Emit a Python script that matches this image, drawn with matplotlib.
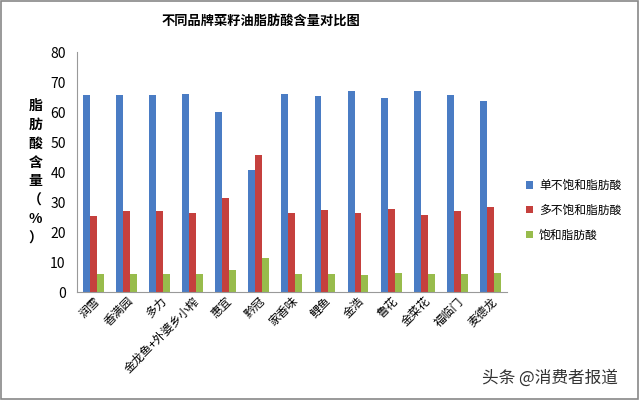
import matplotlib
matplotlib.use('Agg')
import matplotlib.pyplot as plt
import numpy as np
from matplotlib.patches import Rectangle

plt.rcParams['font.family'] = ['Noto Sans CJK SC', 'DejaVu Sans']

# 数据
brands = ['润雪', '香满园', '多力', '金龙鱼+外婆乡小榨', '惠宜', '黔冠', '家香味',
          '鲤鱼', '金浩', '鲁花', '金菜花', '福临门', '麦德龙']
mono = [65.7, 65.7, 65.7, 66.1, 59.9, 40.8, 66.1, 65.3, 66.9, 64.6, 66.9, 65.7, 63.8]
poly = [25.2, 26.9, 26.9, 26.5, 31.2, 45.8, 26.2, 27.4, 26.2, 27.8, 25.8, 26.9, 28.5]
sat = [6.1, 6.1, 6.1, 6.1, 7.3, 11.5, 6.1, 6.1, 5.7, 6.4, 6.1, 6.1, 6.4]
series_names = ['单不饱和脂肪酸', '多不饱和脂肪酸', '饱和脂肪酸']
colors = ['#4a7cc4', '#c5403d', '#98bc4c']

fig = plt.figure(figsize=(6.4, 4.0), dpi=100)
ax = fig.add_axes([0.120, 0.27, 0.672, 0.60])

x = np.arange(len(brands))
w = 0.21
for i, (vals, c) in enumerate(zip([mono, poly, sat], colors)):
    ax.bar(x + (i - 1) * w, vals, w, color=c, label=series_names[i])

ax.set_xlim(-0.5, len(brands) - 0.5)
ax.set_ylim(0, 80)
ax.set_yticks(range(0, 81, 10))
ax.tick_params(axis='y', length=0, labelsize=10, pad=8)
ax.tick_params(axis='x', length=0, pad=2)
for s in ['top', 'right']:
    ax.spines[s].set_visible(False)
ax.spines['left'].set_color('#999999')
ax.spines['bottom'].set_color('#999999')
ax.set_xticks(x)
ax.set_xticklabels(brands, rotation=45, ha='right', rotation_mode='anchor', fontsize=8.5)

fig.text(0.408, 0.948, '不同品牌菜籽油脂肪酸含量对比图', fontsize=9.5, fontweight='bold',
         ha='center', va='center')

fig.text(0.055, 0.57, '脂\n肪\n酸\n含\n量\n（\n%\n）', fontsize=10, fontweight='bold',
         ha='center', va='center', linespacing=1.45)

ax.legend(loc='center left', bbox_to_anchor=(1.02, 0.34), frameon=False,
          fontsize=8.5, handlelength=0.6, handleheight=0.6, handletextpad=0.5,
          labelspacing=1.0)

fig.patches.append(Rectangle((0.002, 0.003), 0.995, 0.994, transform=fig.transFigure,
                             fill=False, edgecolor='#888888', linewidth=1.2))

fig.text(0.965, 0.055, '头条 @消费者报道', fontsize=12, color='#333333', ha='right', va='center')

fig.savefig('out.png', dpi=100)
